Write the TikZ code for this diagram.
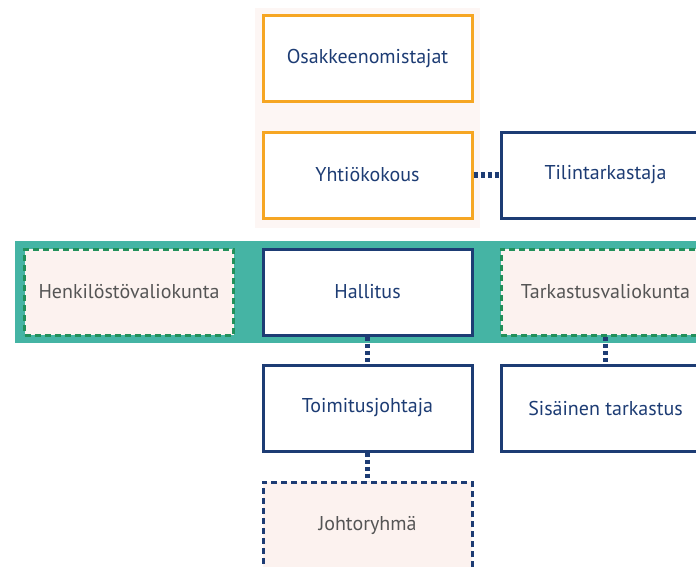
\documentclass[tikz,border=0pt]{standalone}
\usepackage{fontspec}
\setmainfont{PT Sans}
\usepackage{xcolor}
\usepackage{tikz}

\definecolor{navy}{HTML}{1D3C74}
\definecolor{orangeline}{HTML}{F6A623}
\definecolor{tealband}{HTML}{45B4A4}
\definecolor{greenline}{HTML}{22905A}
\definecolor{palepink}{HTML}{FCF2EF}
\definecolor{greytext}{HTML}{555555}

\begin{document}
\begin{tikzpicture}[x=1pt, y=-1pt,
    box/.style={rectangle, minimum width=209pt, minimum height=86pt, line width=3pt, font=\fontsize{20}{24}\selectfont},
    ownerbox/.style={box, draw=orangeline, fill=white, text=navy},
    mainbox/.style={box, draw=navy, fill=white, text=navy},
    committeebox/.style={box, draw=greenline, dashed, dash pattern=on 6pt off 4pt, fill=palepink, text=greytext},
    groupbox/.style={box, draw=navy, dashed, dash pattern=on 6pt off 4pt, fill=palepink, text=greytext},
    link/.style={draw=navy, line width=5.5pt, dash pattern=on 4pt off 3pt}]
    \useasboundingbox (0,0) rectangle (696,566);
    \clip (0,0) rectangle (696,566);

    % Owner column background
    \fill[palepink!70] (255,8) rectangle (480,228);
    % Board band
    \fill[tealband] (15,241) rectangle (700,343);

    % Shareholders
    \node[ownerbox] (owners) at (367.5,58) {Osakkeenomistajat};
    % General meeting
    \node[ownerbox] (meeting) at (367.5,175) {Yhtiökokous};
    % Auditor
    \node[mainbox] (auditor) at (605.5,175) {Tilintarkastaja};

    % Personnel committee
    \node[committeebox] (personnel) at (129,292) {Henkilöstövaliokunta};
    % Board
    \node[mainbox] (board) at (367.5,292) {Hallitus};
    % Audit committee
    \node[committeebox] (auditcom) at (605.5,292) {Tarkastusvaliokunta};

    % CEO
    \node[mainbox] (ceo) at (367.5,408) {Toimitusjohtaja};
    % Internal audit
    \node[mainbox] (internal) at (605.5,408) {Sisäinen tarkastus};

    % Management team
    \node[groupbox] (mgmt) at (367.5,525) {Johtoryhmä};

    % Links
    \draw[link] (meeting) -- (auditor);
    \draw[link] (board) -- (ceo);
    \draw[link] (auditcom) -- (internal);
    \draw[link] (ceo) -- (mgmt);
\end{tikzpicture}
\end{document}
